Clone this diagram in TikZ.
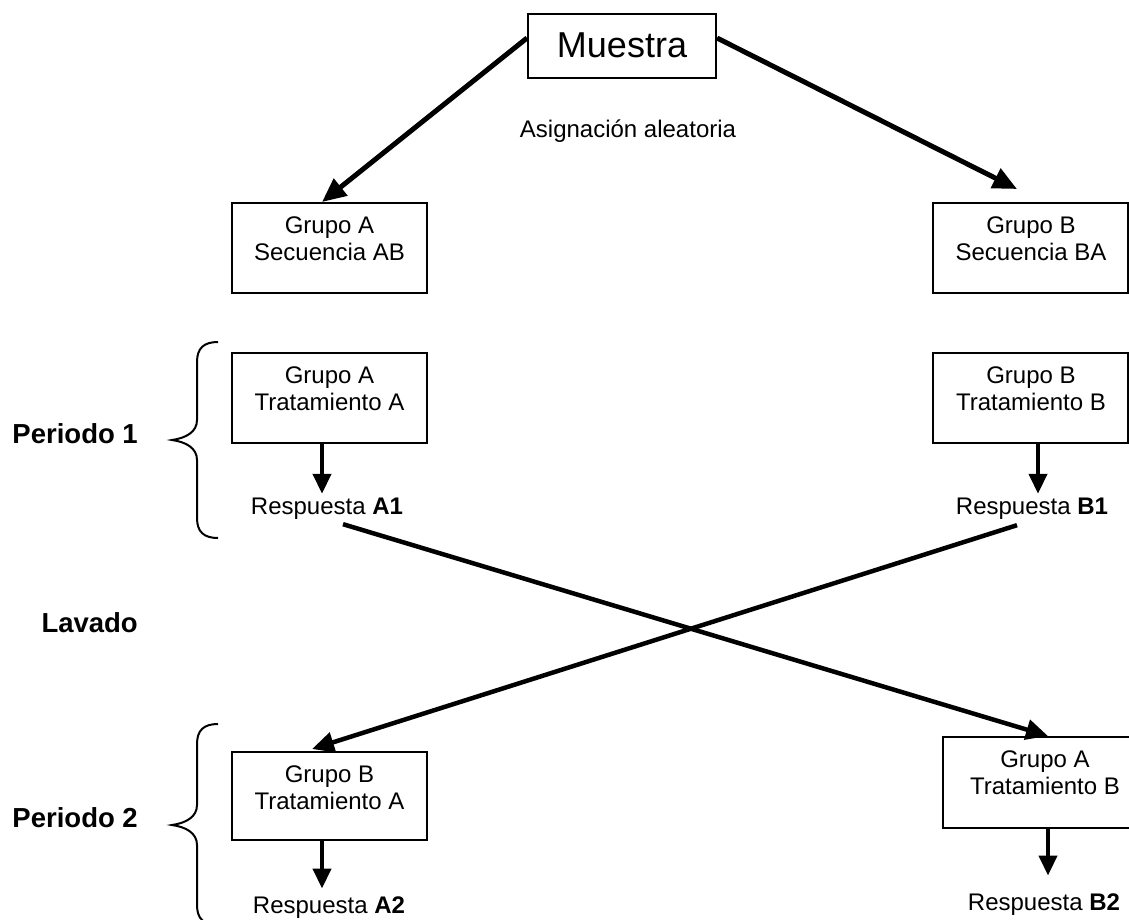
\documentclass[tikz,border=0pt]{standalone}
\usepackage{fontspec}
\setmainfont{Liberation Sans}
\usetikzlibrary{arrows.meta}
\begin{document}
\begin{tikzpicture}[x=1pt,y=-1pt,
  boxnode/.style={draw,line width=2pt,rectangle,minimum width=195pt,minimum height=90pt,inner sep=0pt},
  boxtext/.style={anchor=north,align=center,inner sep=0pt,font=\fontsize{24}{27}\selectfont},
  resp/.style={anchor=base,inner sep=0pt,font=\fontsize{24}{27}\selectfont},
  side/.style={anchor=base east,inner sep=0pt,font=\fontsize{27.5}{30}\selectfont\bfseries},
  bigarrow/.style={line width=5pt,-{Triangle[length=24pt,width=21pt]}},
  crossarrow/.style={line width=4.5pt,-{Triangle[length=22pt,width=20pt]}},
  downarrow/.style={line width=4pt,-{Triangle[length=20pt,width=18pt]}},
  bracepath/.style={line width=2pt}
]
\path[use as bounding box,clip] (0,0) rectangle (1129,919);

% top box
\node[draw,line width=2pt,rectangle,minimum width=188pt,minimum height=64pt,inner sep=0pt] (muestra) at (622,46) {};
\node[anchor=base,inner sep=0pt,font=\fontsize{36}{40}\selectfont] (mtext) at (622,57) {Muestra};
\node[resp] (asig) at (628,137) {Asignación aleatoria};

% row 1
\node[boxnode] (gA1) at (329.5,248) {};
\node[boxtext] (gA1t) at (329.5,217) {Grupo A\\Secuencia AB};
\node[boxnode] (gB1) at (1030.5,248) {};
\node[boxtext] (gB1t) at (1031,217) {Grupo B\\Secuencia BA};

% row 2
\node[boxnode,minimum height=90pt] (tA) at (329.5,398) {};
\node[boxtext] (tAt) at (329.5,367) {Grupo A\\Tratamiento A};
\node[boxnode,minimum height=90pt] (tB) at (1030.5,398) {};
\node[boxtext] (tBt) at (1031,367) {Grupo B\\Tratamiento B};

\node[resp] (rA1) at (327,514) {Respuesta \textbf{A1}};
\node[resp] (rB1) at (1032,514) {Respuesta \textbf{B1}};

% row 3
\node[boxnode,minimum height=88pt] (tBA) at (329.5,796) {};
\node[boxtext] (tBAt) at (329.5,766) {Grupo B\\Tratamiento A};
\node[boxnode,minimum height=91pt] (tAB) at (1040.5,782.5) {};
\node[boxtext] (tABt) at (1045,751) {Grupo A\\Tratamiento B};

\node[resp] (rA2) at (329,913) {Respuesta \textbf{A2}};
\node[resp] (rB2) at (1044,910) {Respuesta \textbf{B2}};

% side labels
\node[side] (p1) at (138,443) {Periodo 1};
\node[side] (lav) at (138,632) {Lavado};
\node[side] (p2) at (138,827) {Periodo 2};

% arrows from top
\draw[bigarrow] ([yshift=8pt]muestra.west) -- ([xshift=-7.5pt]gA1.north);
\draw[bigarrow] ([yshift=8pt]muestra.east) -- ([xshift=-13.5pt,yshift=13pt]gB1.north);

% down arrows
\draw[downarrow,shorten >=3.5pt] ([xshift=-7.5pt]tA.south) -- ([xshift=-7.5pt]tA.south |- rA1.north);
\draw[downarrow,shorten >=3.5pt] ([xshift=7.5pt]tB.south) -- ([xshift=7.5pt]tB.south |- rB1.north);
\draw[downarrow,shorten >=7.5pt] ([xshift=-7.5pt]tBA.south) -- ([xshift=-7.5pt]tBA.south |- rA2.north);
\draw[downarrow,shorten >=17.5pt] ([xshift=7.5pt]tAB.south) -- ([xshift=7.5pt]tAB.south |- rB2.north);

% crossing arrows
\draw[crossarrow] ([xshift=16pt,yshift=-5pt]rA1.south) -- ([xshift=7.5pt]tAB.north);
\draw[crossarrow] ([xshift=-15pt,yshift=-6pt]rB1.south) -- ([xshift=-17.5pt,yshift=2pt]tBA.north);

% braces
\draw[bracepath] (218,342) .. controls (204,342) and (197,348) .. (197,362) -- (197,420)
  .. controls (197,432) and (186,438) .. (172,440)
  .. controls (186,442) and (197,448) .. (197,460) -- (197,518)
  .. controls (197,532) and (204,538) .. (218,538);
\draw[bracepath] (218,724) .. controls (204,724) and (197,730) .. (197,744) -- (197,805)
  .. controls (197,817) and (186,823) .. (172,825)
  .. controls (186,827) and (197,833) .. (197,845) -- (197,905)
  .. controls (197,919) and (204,925) .. (218,925);
\end{tikzpicture}
\end{document}
